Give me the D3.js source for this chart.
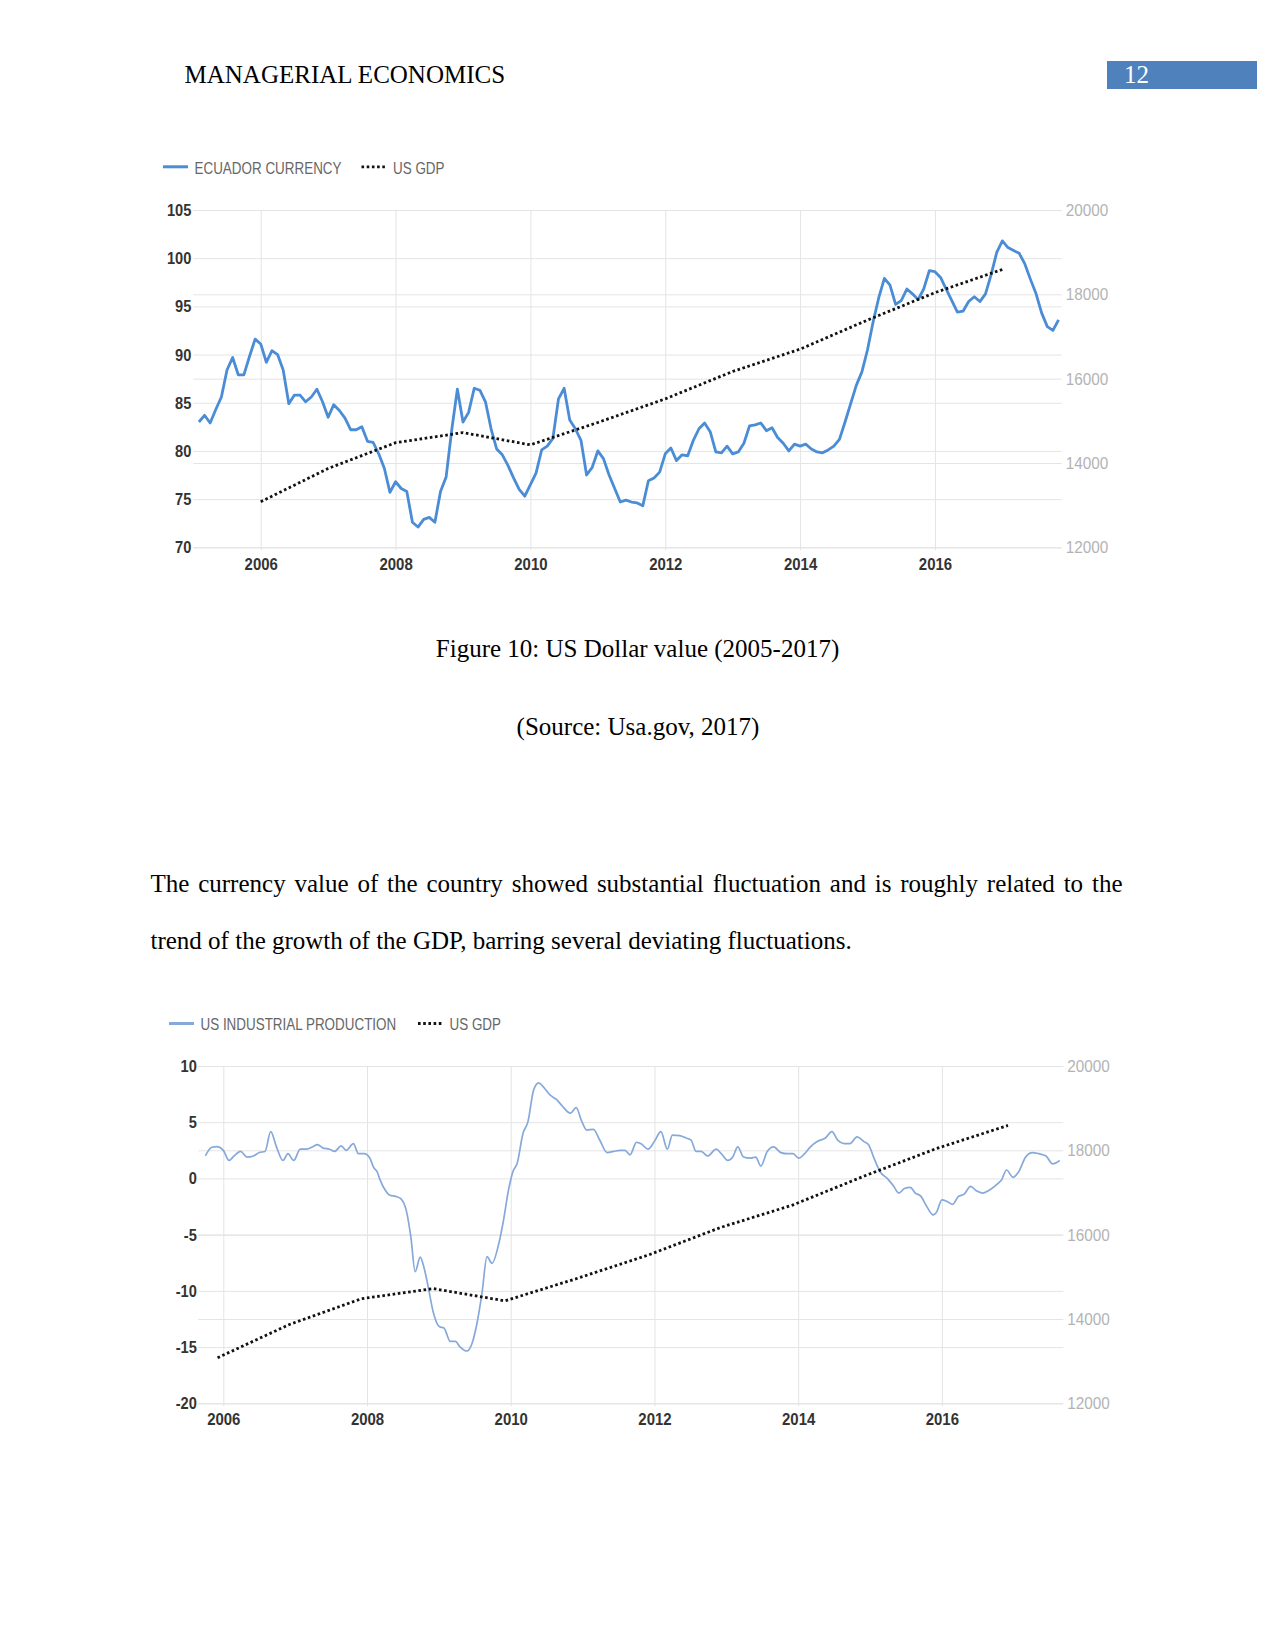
<!DOCTYPE html>
<html><head><meta charset="utf-8">
<script src="https://cdn.jsdelivr.net/npm/d3@7"></script>
<style>
html,body{margin:0;padding:0;background:#fff;}
svg{display:block;}
.serif{font-family:"Liberation Serif","Times New Roman",serif;}
.cf{font-family:"Liberation Sans",Arial,sans-serif;}
</style></head><body>
<svg id="page" width="1275" height="1650"></svg>
<script>
// ---------------- DATA ----------------
const yearTicks = [2006, 2008, 2010, 2012, 2014, 2016];
const gdpTicks = [12000, 14000, 16000, 18000, 20000];
const ecuTicks = [70, 75, 80, 85, 90, 95, 100, 105];
const ipTicks = [-20, -15, -10, -5, 0, 5, 10];

// US GDP (billions USD), annual points
const gdpValues = [13080, 13870, 14480, 14720, 14430, 14960, 15520, 16170, 16700, 17390, 18040, 18590];
const gdpDates1 = [2006, 2007, 2008, 2009, 2010, 2011, 2012, 2013, 2014, 2015, 2016, 2017];
const gdpDates2 = [2005.92, 2006.92, 2007.92, 2008.92, 2009.92, 2010.92, 2011.92, 2012.92, 2013.92, 2014.92, 2015.92, 2016.92];

// Ecuador currency index, monthly from Feb 2005
const ecuStartYear = 2005 + 1 / 12;
const ecuValues = [
  83.0, 83.7, 82.9, 84.3, 85.6, 88.4, 89.7, 87.9, 87.9, 89.8,
  91.6, 91.1, 89.2, 90.4, 90.0, 88.4, 84.9, 85.8, 85.8, 85.1,
  85.6, 86.4, 85.1, 83.5, 84.8, 84.2, 83.4, 82.2, 82.2, 82.5,
  81.0, 80.9, 79.7, 78.2, 75.7, 76.8, 76.1, 75.8, 72.6, 72.1,
  72.9, 73.1, 72.6, 75.8, 77.3, 82.2, 86.4, 83.0, 84.0, 86.5,
  86.3, 85.1, 82.3, 80.2, 79.6, 78.5, 77.2, 76.0, 75.3, 76.5,
  77.7, 80.1, 80.5, 81.3, 85.4, 86.5, 83.2, 82.3, 81.1, 77.5,
  78.3, 80.0, 79.2, 77.5, 76.1, 74.7, 74.9, 74.7, 74.6, 74.3,
  76.9, 77.2, 77.8, 79.7, 80.3, 79.0, 79.6, 79.5, 81.1, 82.3,
  82.9, 82.0, 79.9, 79.8, 80.5, 79.7, 79.9, 80.8, 82.6, 82.7,
  82.9, 82.1, 82.4, 81.4, 80.8, 80.0, 80.7, 80.5, 80.7, 80.2,
  79.9, 79.8, 80.1, 80.5, 81.2, 83.0, 84.9, 86.8, 88.2, 90.5,
  93.4, 95.9, 97.9, 97.2, 95.2, 95.6, 96.8, 96.3, 95.7, 96.8,
  98.7, 98.6, 98.0, 96.8, 95.6, 94.4, 94.5, 95.5, 96.0, 95.5,
  96.3, 98.3, 100.6, 101.8, 101.1, 100.8, 100.5, 99.4, 97.8, 96.3,
  94.3, 92.9, 92.5, 93.6
];

// US industrial production (YoY %), read points
const ipDates = [
  2005.75, 2005.84, 2005.91, 2006.00, 2006.08, 2006.15, 2006.24, 2006.33, 2006.42, 2006.50,
  2006.58, 2006.66, 2006.74, 2006.83, 2006.90, 2006.98, 2007.07, 2007.16, 2007.24, 2007.31,
  2007.39, 2007.48, 2007.55, 2007.64, 2007.71, 2007.81, 2007.88, 2007.96, 2008.04, 2008.09,
  2008.14, 2008.18, 2008.25, 2008.32, 2008.40, 2008.47, 2008.55, 2008.61, 2008.67, 2008.74,
  2008.79, 2008.85, 2008.92, 2009.01, 2009.07, 2009.16, 2009.23, 2009.29, 2009.39, 2009.46,
  2009.53, 2009.60, 2009.67, 2009.74, 2009.83, 2009.90, 2009.97, 2010.03, 2010.09, 2010.17,
  2010.24, 2010.32, 2010.39, 2010.45, 2010.55, 2010.64, 2010.71, 2010.83, 2010.91, 2010.99,
  2011.06, 2011.15, 2011.24, 2011.34, 2011.43, 2011.52, 2011.59, 2011.66, 2011.75, 2011.82,
  2011.91, 2012.00, 2012.09, 2012.18, 2012.25, 2012.35, 2012.44, 2012.51, 2012.58, 2012.65,
  2012.74, 2012.86, 2012.93, 2013.02, 2013.09, 2013.16, 2013.24, 2013.33, 2013.41, 2013.48,
  2013.57, 2013.66, 2013.76, 2013.85, 2013.93, 2014.01, 2014.09, 2014.17, 2014.27, 2014.38,
  2014.47, 2014.55, 2014.64, 2014.72, 2014.82, 2014.91, 2014.98, 2015.05, 2015.14, 2015.24,
  2015.33, 2015.40, 2015.48, 2015.56, 2015.63, 2015.71, 2015.79, 2015.88, 2015.93, 2016.00,
  2016.08, 2016.15, 2016.23, 2016.31, 2016.40, 2016.48, 2016.57, 2016.67, 2016.79, 2016.83,
  2016.90, 2016.99, 2017.06, 2017.17, 2017.26, 2017.35, 2017.45, 2017.54, 2017.64
];
const ipValues = [
  2.0, 2.77, 2.83, 2.5, 1.6, 2.0, 2.4, 1.9, 2.0, 2.3,
  2.4, 4.16, 2.8, 1.6, 2.2, 1.6, 2.6, 2.6, 2.8, 3.0,
  2.7, 2.6, 2.4, 2.9, 2.5, 3.1, 2.2, 2.2, 1.8, 1.0,
  0.6, -0.1, -1.0, -1.5, -1.6, -1.8, -2.95, -5.2, -8.3, -7.0,
  -7.85, -9.6, -11.85, -13.2, -13.3, -14.5, -14.5, -14.95, -15.35, -14.7,
  -12.9, -10.2, -6.96, -7.55, -5.9, -3.7, -1.0, 0.6, 1.34, 4.0,
  5.05, 7.9, 8.5, 8.16, 7.4, 7.0, 6.5, 5.8, 6.3, 5.05,
  4.3, 4.37, 3.4, 2.3, 2.4, 2.5, 2.5, 2.1, 3.2, 3.06,
  2.6, 3.3, 4.16, 2.6, 3.86, 3.8, 3.6, 3.4, 2.4, 2.4,
  2.0, 2.6, 2.2, 1.6, 1.9, 2.8, 1.9, 1.8, 1.9, 1.1,
  2.4, 2.8, 2.3, 2.2, 2.2, 1.8, 2.2, 2.8, 3.3, 3.6,
  4.16, 3.4, 3.1, 3.1, 3.7, 3.3, 3.0, 1.9, 0.6, 0.0,
  -0.7, -1.3, -0.9, -0.8, -1.3, -1.6, -2.5, -3.25, -2.95, -1.9,
  -2.07, -2.3, -1.6, -1.4, -0.7, -1.1, -1.3, -1.0, -0.4, -0.14,
  0.75, 0.1, 0.5, 1.94, 2.3, 2.2, 2.0, 1.3, 1.6
];

const bodyLine1 = "The currency value of the country showed substantial fluctuation and is roughly related to the";
const bodyLine2 = "trend of the growth of the GDP, barring several deviating fluctuations.";

// ---------------- DRAW ----------------
const svg = d3.select('#page');
const ECU_BLUE = '#4a8cd6';
const IP_BLUE = '#86a9da';
const GRID = '#e4e4e4';

// horizontally condense a text element about its own x anchor
function narrow(sel, k) {
  sel.each(function () {
    const t = d3.select(this);
    const x0 = +(t.attr('x') || 0);
    t.attr('transform', `translate(${x0},0) scale(${k},1) translate(${-x0},0)`);
  });
}

// header
svg.append('text').attr('class', 'serif').attr('x', 184.5).attr('y', 83)
  .attr('font-size', 25).attr('fill', '#000').text('MANAGERIAL ECONOMICS');
svg.append('rect').attr('x', 1107).attr('y', 61).attr('width', 150).attr('height', 28).attr('fill', '#4f81bd');
svg.append('text').attr('class', 'serif').attr('x', 1124).attr('y', 83)
  .attr('font-size', 25).attr('fill', '#fff').text('12');

function drawChart(cfg) {
  const g = svg.append('g').attr('class', 'cf');
  const x = d3.scaleLinear().domain(cfg.xDomain).range([cfg.left, cfg.right]);
  const yL = d3.scaleLinear().domain(cfg.yLDomain).range([cfg.bottom, cfg.top]);
  const yR = d3.scaleLinear().domain([12000, 20000]).range([cfg.bottom, cfg.top]);
  const w = cfg.right - cfg.left, h = cfg.bottom - cfg.top;

  // vertical grid + x labels
  const ax = g.append('g').attr('transform', `translate(0,${cfg.bottom})`)
    .call(d3.axisBottom(x).tickValues(yearTicks).tickFormat(d => String(d))
      .tickSizeInner(-h - 3).tickSizeOuter(0).tickPadding(cfg.xPad));
  ax.select('.domain').remove();
  ax.selectAll('.tick line').attr('stroke', GRID).attr('stroke-width', 1).attr('transform', 'translate(0,3)');
  ax.selectAll('.tick text').attr('fill', '#333').attr('font-size', 17).attr('font-weight', 'bold')
    .call(narrow, 0.88);

  // left axis + horizontal grid
  const al = g.append('g').attr('transform', `translate(${cfg.left},0)`)
    .call(d3.axisLeft(yL).tickValues(cfg.yLTicks).tickFormat(d => String(d))
      .tickSizeInner(-w).tickSizeOuter(0).tickPadding(cfg.lPad));
  al.select('.domain').remove();
  al.selectAll('.tick line').attr('stroke', GRID).attr('stroke-width', 1);
  al.selectAll('.tick text').attr('fill', '#333').attr('font-size', 17).attr('font-weight', 'bold')
    .call(narrow, 0.86);

  // right axis + horizontal grid
  const ar = g.append('g').attr('transform', `translate(${cfg.right},0)`)
    .call(d3.axisRight(yR).tickValues(gdpTicks).tickFormat(d => String(d))
      .tickSizeInner(-w).tickSizeOuter(0).tickPadding(4));
  ar.select('.domain').remove();
  ar.selectAll('.tick line').attr('stroke', GRID).attr('stroke-width', 1);
  ar.selectAll('.tick text').attr('fill', '#b3b3b3').attr('font-size', 17)
    .call(narrow, 0.9);

  // main series
  const line = d3.line().x(d => x(d[0])).y(d => yL(d[1]));
  if (cfg.curve) line.curve(cfg.curve);
  g.append('path').datum(cfg.series).attr('fill', 'none').attr('stroke', cfg.color)
    .attr('stroke-width', cfg.width).attr('stroke-linejoin', 'round').attr('d', line);

  // GDP dotted
  const gl = d3.line().x(d => x(d[0])).y(d => yR(d[1]));
  g.append('path').datum(cfg.gdp).attr('fill', 'none').attr('stroke', '#111')
    .attr('stroke-width', 2.8).attr('stroke-dasharray', '2.6,2.6').attr('d', gl);

  // legend
  const lg = g.append('g');
  lg.append('line').attr('x1', cfg.leg.lx).attr('x2', cfg.leg.lx + 25).attr('y1', cfg.leg.y).attr('y2', cfg.leg.y)
    .attr('stroke', cfg.color).attr('stroke-width', 3);
  lg.append('text').attr('x', cfg.leg.lx + 31.5).attr('y', cfg.leg.y + 6.8).attr('font-size', 16)
    .attr('fill', '#666').text(cfg.leg.label).call(narrow, 0.84);
  lg.append('line').attr('x1', cfg.leg.dx).attr('x2', cfg.leg.dx + 24).attr('y1', cfg.leg.y).attr('y2', cfg.leg.y)
    .attr('stroke', '#111').attr('stroke-width', 2.8).attr('stroke-dasharray', '2.6,2.6');
  lg.append('text').attr('x', cfg.leg.dx + 31.5).attr('y', cfg.leg.y + 6.8).attr('font-size', 16)
    .attr('fill', '#666').text('US GDP').call(narrow, 0.84);
}

drawChart({
  left: 193.3, right: 1061.7, top: 210, bottom: 547.3,
  xDomain: [2005.0, 2017.88], yLDomain: [70, 105], yLTicks: ecuTicks,
  xPad: 10.5, lPad: 2,
  series: ecuValues.map((v, i) => [ecuStartYear + i / 12, v]),
  gdp: gdpValues.map((v, i) => [gdpDates1[i], v]),
  color: ECU_BLUE, width: 2.8, curve: null,
  leg: { lx: 163, dx: 361.5, y: 166.8, label: 'ECUADOR CURRENCY' }
});

drawChart({
  left: 198.3, right: 1063.3, top: 1066, bottom: 1403.3,
  xDomain: [2005.652, 2017.69], yLDomain: [-20, 10], yLTicks: ipTicks,
  xPad: 9.6, lPad: 1.5,
  series: ipValues.map((v, i) => [ipDates[i], v]),
  gdp: gdpValues.map((v, i) => [gdpDates2[i], v]),
  color: IP_BLUE, width: 1.7, curve: d3.curveMonotoneX,
  leg: { lx: 169, dx: 418, y: 1023.5, label: 'US INDUSTRIAL PRODUCTION' }
});

// caption & source
svg.append('text').attr('class', 'serif').attr('x', 637.5).attr('y', 656.7).attr('text-anchor', 'middle')
  .attr('font-size', 25).text('Figure 10: US Dollar value (2005-2017)');
svg.append('text').attr('class', 'serif').attr('x', 638).attr('y', 735).attr('text-anchor', 'middle')
  .attr('font-size', 25).text('(Source: Usa.gov, 2017)');

// body paragraph
function justify(text, x0, x1, y) {
  const g = svg.append('g').attr('class', 'serif').attr('font-size', 25);
  const words = text.split(' ');
  const nodes = words.map(wd => g.append('text').attr('y', y).text(wd));
  const widths = nodes.map(n => n.node().getComputedTextLength());
  const gap = (x1 - x0 - d3.sum(widths)) / (words.length - 1);
  let xx = x0;
  nodes.forEach((n, i) => { n.attr('x', xx); xx += widths[i] + gap; });
}
justify(bodyLine1, 150.5, 1122.5, 891.7);
svg.append('text').attr('class', 'serif').attr('x', 150.5).attr('y', 949.3).attr('font-size', 25).text(bodyLine2);
</script></body></html>
